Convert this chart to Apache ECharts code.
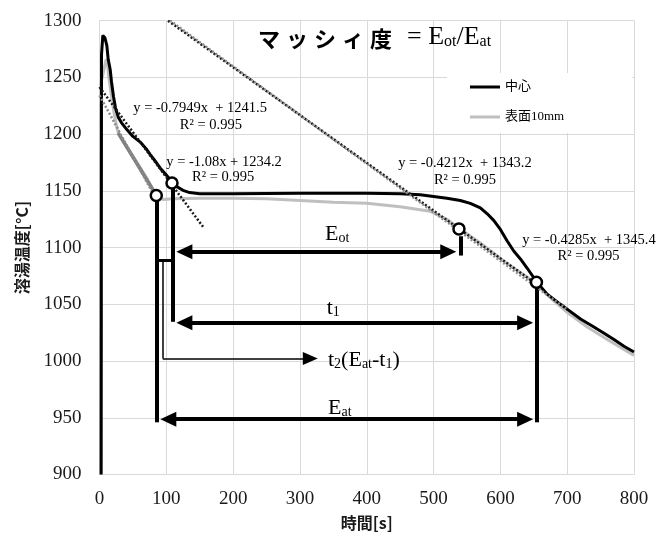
<!DOCTYPE html>
<html><head><meta charset="utf-8">
<script src="https://cdn.jsdelivr.net/npm/echarts@6/dist/echarts.min.js"></script>
<style>html,body{margin:0;padding:0;background:#fff}#c{width:656px;height:537px}</style>
</head><body><div id="c"></div>
<script>
// ---- data ----
const xTicks = [0, 100, 200, 300, 400, 500, 600, 700, 800];
const yTicks = [900, 950, 1000, 1050, 1100, 1150, 1200, 1250, 1300];
const seriesNames = ['中心', '表面10mm'];

const centerData = [
  [2.5, 900], [3, 1270], [5, 1287], [8, 1285], [11, 1278], [13, 1266], [16, 1257], [18, 1246],
  [21, 1233], [24, 1223], [28, 1215], [33, 1210], [41, 1204], [50, 1198], [61, 1193], [70, 1187],
  [76, 1182], [85, 1175], [91, 1170], [100, 1164], [108, 1158], [115, 1154], [125, 1150.5],
  [135, 1148.5], [150, 1147.5], [200, 1147.5], [300, 1148], [400, 1148], [450, 1147.5],
  [480, 1146.5], [500, 1145], [520, 1143.5], [540, 1141.5], [555, 1139], [570, 1135],
  [580, 1130], [590, 1124], [600, 1116], [610, 1106], [620, 1097], [630, 1090], [640, 1082],
  [654, 1070], [670, 1059], [690, 1050], [704, 1044], [720, 1037], [740, 1030], [754, 1025],
  [770, 1019], [785, 1013], [800, 1008]
];
const surfaceData = [
  [1.5, 900], [2, 1245], [4, 1250], [7, 1258], [10, 1266], [12, 1262], [14, 1250], [18, 1233],
  [22, 1218], [26, 1206], [28, 1201], [40, 1190], [55, 1176], [70, 1162], [85, 1146],
  [95, 1142.5], [110, 1143], [150, 1143.5], [200, 1143.5], [250, 1143], [300, 1141.5],
  [350, 1140], [400, 1139], [450, 1136], [495, 1132], [520, 1125], [538, 1117], [570, 1104],
  [610, 1086], [640, 1074], [655, 1067], [680, 1053], [700, 1043], [730, 1030], [760, 1019],
  [780, 1012], [800, 1005]
];
const surfaceFitData = [[28, 1201], [85, 1146]];

// trend lines
const trendSlopes = [-0.7949, -1.08, -0.4212, -0.4285];
const trendIntercepts = [1241.5, 1234.2, 1343.2, 1345.4];
const trendFrom = [0, 0, 102.6, 105.6];
const trendTo = [155, 85, 655, 700];
const trendDark = [true, false, true, false];
const trendEq = ['y = -0.7949x  + 1241.5', 'y = -1.08x + 1234.2', 'y = -0.4212x  + 1343.2', 'y = -0.4285x  + 1345.4'];
const trendEqPos = [[150.6, 1223], [186.4, 1175.7], [547, 1174.3], [732.6, 1106.6]];
const trendR2Pos = [[166.7, 1208], [185, 1162], [547, 1159.5], [732, 1092]];
const r2Text = 'R² = 0.995';

const circlePoints = [[85, 1146], [108.5, 1157], [538, 1116.5], [654, 1069.5]];

// thick vertical bars [x, yTop, yBottom]
const bars = [[85, 1146, 946], [109, 1157, 1034.6], [540, 1110, 1093], [655, 1069, 946]];
// double arrows [y, xLeftEnd, xRightEnd]
const arrows = [[1096.3, 127, 522], [1033.7, 127, 637], [948.8, 103, 637]];
// t2 connector
const t2Tick = [[85, 1089], [109, 1089]];
const t2Path = [[94.6, 1089], [94.6, 1002.3], [315.5, 1002.3]];
// annotation labels (left anchored, data coords)
const annLabels = [
  ['{m|E}{s|ot}', 337.6, 1113.7],
  ['{m|t}{s|1}', 340, 1048],
  ['{m|t}{s|2}{m|(E}{s|at}{m|-t}{s|1}{m|)}', 342, 1002.3],
  ['{m|E}{s|at}', 342, 960.5]
];

// ---- chart ----
const serif = "'Liberation Serif','Times New Roman',serif";
const cjk = "'Noto Sans CJK JP',sans-serif";
const mixed = "'Liberation Serif','Noto Sans CJK JP',serif";

const annRich = {
  m: { fontFamily: serif, fontSize: 22, lineHeight: 26, verticalAlign: 'bottom', color: '#000' },
  s: { fontFamily: serif, fontSize: 14, lineHeight: 12, verticalAlign: 'bottom', color: '#000' }
};

const series = [];
series.push({
  name: seriesNames[1], type: 'line', data: surfaceData, showSymbol: false, symbol: 'none',
  lineStyle: { color: '#bfbfbf', width: 3 }, itemStyle: { color: '#bfbfbf' }, z: 3, silent: true
});
series.push({
  name: 'fit', type: 'line', data: surfaceFitData, showSymbol: false, symbol: 'none',
  lineStyle: { color: '#7f7f7f', width: 3.5 }, z: 4, silent: true
});
series.push({
  name: seriesNames[0], type: 'line', data: centerData, showSymbol: false, symbol: 'none',
  lineStyle: { color: '#000', width: 3 }, itemStyle: { color: '#000' }, z: 5, silent: true
});
for (let i = 0; i < trendSlopes.length; i++) {
  const a = trendSlopes[i], b = trendIntercepts[i];
  series.push({
    name: 'trend' + i, type: 'line', showSymbol: false, symbol: 'none', silent: true, z: 6,
    data: [[trendFrom[i], a * trendFrom[i] + b], [trendTo[i], a * trendTo[i] + b]],
    lineStyle: { color: trendDark[i] ? '#1a1a1a' : '#8c8c8c', width: 2.5, type: [2, 2] }
  });
}

const mlData = [];
bars.forEach(([x, y1, y2]) => {
  mlData.push([{ coord: [x, y1], symbol: 'none', lineStyle: { width: 4, color: '#000', type: 'solid' } },
               { coord: [x, y2], symbol: 'none' }]);
});
arrows.forEach(([y, x1, x2]) => {
  mlData.push([{ coord: [x1, y], symbol: 'triangle', symbolSize: [15, 16], lineStyle: { width: 4, color: '#000', type: 'solid' } },
               { coord: [x2, y], symbol: 'triangle', symbolSize: [15, 16] }]);
});
mlData.push([{ coord: t2Tick[0], symbol: 'none', lineStyle: { width: 3, color: '#000', type: 'solid' } },
             { coord: t2Tick[1], symbol: 'none' }]);
mlData.push([{ coord: t2Path[0], symbol: 'none', lineStyle: { width: 1.5, color: '#000', type: 'solid' } },
             { coord: t2Path[1], symbol: 'none' }]);
mlData.push([{ coord: t2Path[1], symbol: 'none', lineStyle: { width: 1.5, color: '#000', type: 'solid' } },
             { coord: t2Path[2], symbol: 'triangle', symbolSize: [13, 15] }]);

const mpData = [];
for (let i = 0; i < trendEq.length; i++) {
  mpData.push({ coord: trendEqPos[i], label: { show: true, position: 'inside', formatter: trendEq[i],
    fontFamily: serif, fontSize: 14.5, color: '#000' } });
  mpData.push({ coord: trendR2Pos[i], label: { show: true, position: 'inside', formatter: r2Text,
    fontFamily: serif, fontSize: 14.5, color: '#000' } });
}
annLabels.forEach(([t, x, y]) => {
  mpData.push({ coord: [x, y], label: { show: true, position: 'right', distance: 0, formatter: t, rich: annRich } });
});

series.push({
  name: 'annot', type: 'line', data: [], silent: true, z: 7,
  markLine: { silent: true, animation: false, label: { show: false }, data: mlData, emphasis: { disabled: true } },
  markPoint: { silent: true, animation: false, symbol: 'circle', symbolSize: 0,
    itemStyle: { color: 'rgba(0,0,0,0)' }, data: mpData }
});
series.push({
  name: 'circles', type: 'scatter', data: circlePoints, symbol: 'circle', symbolSize: 11, z: 10, silent: true,
  itemStyle: { color: '#fff', borderColor: '#000', borderWidth: 2.5, opacity: 1 }
});

const option = {
  animation: false,
  backgroundColor: '#fff',
  title: {
    left: 255, top: 22, padding: 0,
    text: '{k|マ}{k|ッ}{k|シ}{k|ィ}{k|度}{sp| }{b|= E}{s|ot}{b|/E}{s|at}',
    textStyle: {
      fontWeight: 'normal',
      rich: {
        k: { fontFamily: cjk, fontWeight: 'bold', fontSize: 22, lineHeight: 28, verticalAlign: 'bottom', padding: [0, 3, 0, 3], color: '#000' },
        sp: { fontFamily: serif, fontWeight: 'normal', fontSize: 22, lineHeight: 28, verticalAlign: 'bottom', width: 12 },
        b: { fontFamily: serif, fontWeight: 'normal', fontSize: 26, lineHeight: 28, verticalAlign: 'bottom', color: '#000' },
        s: { fontFamily: serif, fontWeight: 'normal', fontSize: 16, lineHeight: 13, verticalAlign: 'bottom', color: '#000' }
      }
    }
  },
  legend: {
    data: seriesNames.slice(), orient: 'vertical', left: 447, top: 73,
    padding: [6, 68, 8, 23], backgroundColor: '#fff',
    icon: 'rect', itemWidth: 30, itemHeight: 3, itemGap: 14,
    textStyle: { fontFamily: mixed, fontSize: 13, color: '#000', lineHeight: 16 },
    selectedMode: false
  },
  grid: { left: 99.5, right: 22, top: 20.7, bottom: 62.5, containLabel: false },
  xAxis: {
    type: 'value', min: xTicks[0], max: xTicks[xTicks.length - 1], interval: 100,
    name: '時間[s]', nameLocation: 'middle', nameGap: 40,
    nameTextStyle: { fontFamily: cjk, fontSize: 16, fontWeight: 'bold', color: '#1a1a1a' },
    axisLine: { show: true, lineStyle: { color: '#d9d9d9', width: 1 } },
    axisTick: { show: false },
    axisLabel: { fontFamily: serif, fontSize: 19, color: '#1a1a1a', margin: 15, formatter: v => String(v) },
    splitLine: { show: true, lineStyle: { color: '#d9d9d9', width: 1 } }
  },
  yAxis: {
    type: 'value', min: yTicks[0], max: yTicks[yTicks.length - 1], interval: 50,
    name: '溶湯温度[°C]', nameLocation: 'middle', nameGap: 70, nameRotate: 90,
    nameTextStyle: { fontFamily: cjk, fontSize: 16, fontWeight: 'bold', color: '#1a1a1a' },
    axisLine: { show: true, lineStyle: { color: '#d9d9d9', width: 1 } },
    axisTick: { show: false },
    axisLabel: { fontFamily: serif, fontSize: 19, color: '#1a1a1a', margin: 18, formatter: v => String(v) },
    splitLine: { show: true, lineStyle: { color: '#d9d9d9', width: 1 } }
  },
  series: series
};
const chart = echarts.init(document.getElementById('c'), null, { renderer: 'canvas' });
chart.setOption(option);
</script>
</body></html>
